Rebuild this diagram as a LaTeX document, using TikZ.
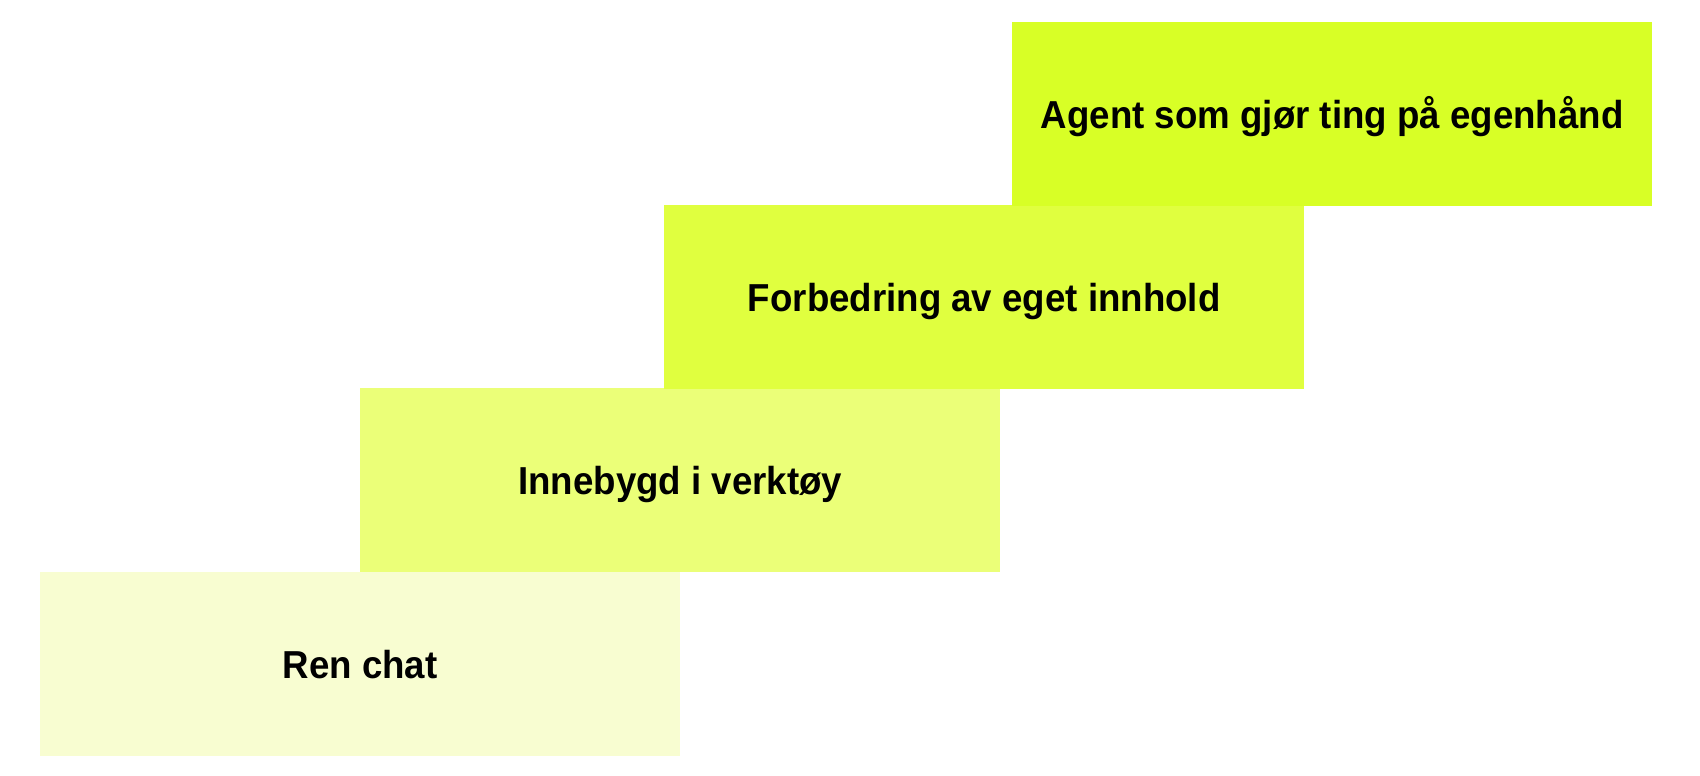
\documentclass[tikz,border=0pt]{standalone}
\usepackage{fontspec}
\setmainfont{Liberation Sans}
\newfontfamily\lblfont[FakeStretch=0.94]{Liberation Sans}
\definecolor{cA}{HTML}{D8FF26}
\definecolor{cB}{HTML}{E0FF3F}
\definecolor{cC}{HTML}{EBFF78}
\definecolor{cD}{HTML}{F8FDD1}
\begin{document}
\begin{tikzpicture}[x=1pt,y=-1pt,
  stepbox/.style={fill=#1, draw=none, minimum width=640pt, minimum height=184pt, inner sep=0pt, anchor=north west},
  lbl/.style={font=\lblfont\bfseries\fontsize{39}{44}\selectfont, anchor=base, inner sep=0pt, text=black}]
\useasboundingbox (0,0) rectangle (1700,776);
\fill[white] (0,0) rectangle (1700,776);
\node[stepbox=cD] (b4) at (40,572) {};
\node[stepbox=cC] (b3) at (360,388) {};
\node[stepbox=cB] (b2) at (664,205) {};
\node[stepbox=cA] (b1) at (1012,22) {};
\node[lbl] (t4) at ([yshift=-14pt]b4.center) {Ren chat};
\node[lbl] (t3) at ([yshift=-14pt]b3.center) {Innebygd i verktøy};
\node[lbl] (t2) at ([yshift=-14pt]b2.center) {Forbedring av eget innhold};
\node[lbl] (t1) at ([yshift=-14pt]b1.center) {Agent som gjør ting på egenhånd};
\end{tikzpicture}
\end{document}
